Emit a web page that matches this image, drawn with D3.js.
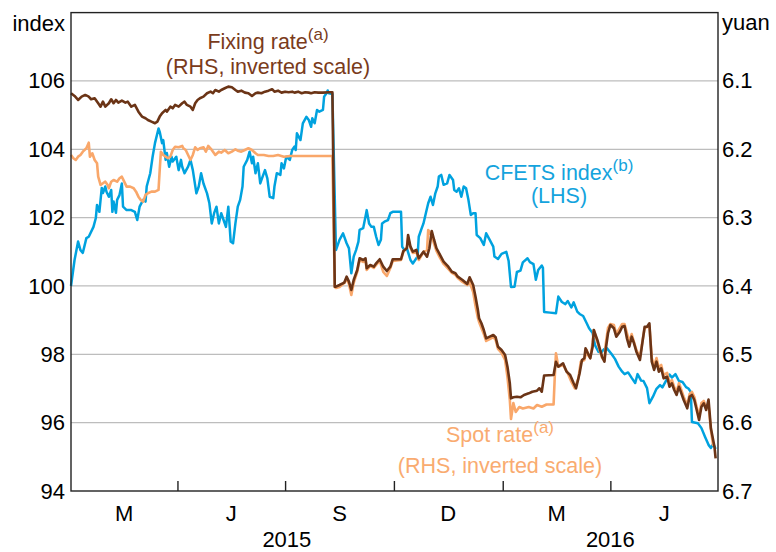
<!DOCTYPE html>
<html><head><meta charset="utf-8">
<script src="https://cdn.jsdelivr.net/npm/d3@7"></script>
<style>
html,body{margin:0;padding:0;background:#fff;}
svg{display:block;font-family:"Liberation Sans",Arial,sans-serif;}
</style></head><body>
<svg id="chart" width="776" height="552"></svg>
<script>
// CFETS RMB index (LHS)
const cfetsIndex = [
["2015-01-01",100.00],["2015-01-04",100.76],["2015-01-07",101.30],["2015-01-09",101.05],["2015-01-11",100.97],
["2015-01-14",101.40],["2015-01-16",101.44],["2015-01-20",101.73],["2015-01-22",101.99],["2015-01-23",102.37],
["2015-01-25",102.17],["2015-01-27",102.87],["2015-01-28",102.72],["2015-01-30",102.91],["2015-01-31",102.76],
["2015-02-02",102.61],["2015-02-04",102.81],["2015-02-05",102.17],["2015-02-06",102.47],["2015-02-08",102.14],
["2015-02-09",102.52],["2015-02-11",102.66],["2015-02-13",103.00],["2015-02-14",102.32],["2015-02-17",102.22],
["2015-02-21",102.22],["2015-02-24",102.17],["2015-02-26",101.93],["2015-02-28",102.32],["2015-03-03",102.52],
["2015-03-05",102.47],["2015-03-06",102.91],["2015-03-09",103.30],["2015-03-11",103.78],["2015-03-13",104.18],
["2015-03-16",104.61],["2015-03-17",104.51],["2015-03-19",104.18],["2015-03-20",104.27],["2015-03-22",103.69],
["2015-03-23",103.89],["2015-03-25",103.49],["2015-03-27",103.78],["2015-03-28",103.64],["2015-03-31",103.78],
["2015-04-02",103.39],["2015-04-04",103.69],["2015-04-05",103.49],["2015-04-07",103.30],["2015-04-10",103.49],
["2015-04-12",103.69],["2015-04-14",103.39],["2015-04-17",102.71],["2015-04-19",102.91],["2015-04-21",103.30],
["2015-04-23",103.00],["2015-04-26",102.71],["2015-04-28",102.42],["2015-04-30",101.83],["2015-05-02",102.13],
["2015-05-04",102.32],["2015-05-06",101.83],["2015-05-08",102.13],["2015-05-10",101.93],["2015-05-12",101.73],
["2015-05-14",102.32],["2015-05-16",101.30],["2015-05-18",101.25],["2015-05-20",101.83],["2015-05-22",102.32],
["2015-05-24",102.52],["2015-05-26",102.91],["2015-05-27",103.49],["2015-05-30",103.69],["2015-06-01",103.93],
["2015-06-03",103.59],["2015-06-04",103.78],["2015-06-06",103.30],["2015-06-08",103.59],["2015-06-10",103.00],
["2015-06-12",103.20],["2015-06-14",103.39],["2015-06-16",103.15],["2015-06-18",102.61],["2015-06-21",102.57],
["2015-06-22",102.91],["2015-06-24",103.30],["2015-06-27",103.25],["2015-06-28",103.59],["2015-06-30",103.44],
["2015-07-02",103.78],["2015-07-05",103.69],["2015-07-07",103.98],["2015-07-09",104.08],["2015-07-10",103.98],
["2015-07-11",104.47],["2015-07-14",104.27],["2015-07-16",104.76],["2015-07-19",104.95],["2015-07-21",104.86],
["2015-07-23",104.66],["2015-07-24",104.91],["2015-07-26",104.76],["2015-07-28",105.15],["2015-07-30",105.10],
["2015-08-02",105.15],["2015-08-03",105.54],["2015-08-05",105.64],["2015-08-06",105.72],["2015-08-07",105.64],
["2015-08-10",105.62],["2015-08-13",101.05],["2015-08-16",101.35],["2015-08-19",101.54],["2015-08-22",101.25],
["2015-08-24",101.10],["2015-08-26",100.37],["2015-08-28",100.86],["2015-08-30",101.05],["2015-09-01",101.30],
["2015-09-02",101.64],["2015-09-05",101.69],["2015-09-07",102.03],["2015-09-08",102.22],["2015-09-10",101.83],
["2015-09-12",101.73],["2015-09-14",101.73],["2015-09-16",101.44],["2015-09-18",101.20],["2015-09-20",101.35],
["2015-09-21",101.83],["2015-09-23",101.88],["2015-09-26",101.93],["2015-09-28",102.13],["2015-09-30",102.17],
["2015-10-07",102.17],["2015-10-08",101.15],["2015-10-10",101.05],["2015-10-12",101.10],["2015-10-15",100.76],
["2015-10-17",100.66],["2015-10-19",100.76],["2015-10-21",100.86],["2015-10-22",101.44],["2015-10-24",101.64],
["2015-10-26",101.83],["2015-10-28",102.13],["2015-10-30",102.42],["2015-11-01",102.61],["2015-11-03",102.37],
["2015-11-05",102.71],["2015-11-07",102.91],["2015-11-08",103.20],["2015-11-10",103.25],["2015-11-12",102.96],
["2015-11-15",103.00],["2015-11-17",103.25],["2015-11-20",103.10],["2015-11-21",102.81],["2015-11-23",102.76],
["2015-11-25",102.86],["2015-11-27",102.61],["2015-11-29",102.91],["2015-12-01",102.86],["2015-12-03",102.52],
["2015-12-05",102.08],["2015-12-07",102.13],["2015-12-09",102.13],["2015-12-10",101.49],["2015-12-13",101.40],
["2015-12-16",101.20],["2015-12-18",101.54],["2015-12-21",101.35],["2015-12-24",101.15],["2015-12-25",100.86],
["2015-12-28",100.79],["2015-12-31",100.94],["2016-01-04",101.00],["2016-01-06",100.73],["2016-01-08",99.97],
["2016-01-11",99.98],["2016-01-13",100.41],["2016-01-16",100.45],["2016-01-18",100.69],["2016-01-22",100.81],
["2016-01-24",100.70],["2016-01-27",100.64],["2016-01-29",100.18],["2016-01-31",100.47],["2016-02-03",100.60],
["2016-02-04",100.53],["2016-02-05",99.24],["2016-02-10",99.22],["2016-02-15",99.20],["2016-02-17",99.69],
["2016-02-20",99.53],["2016-02-23",99.47],["2016-02-25",99.56],["2016-02-28",99.37],["2016-03-01",99.52],
["2016-03-04",99.25],["2016-03-06",99.18],["2016-03-09",99.12],["2016-03-12",98.91],["2016-03-14",98.76],
["2016-03-17",98.62],["2016-03-19",98.27],["2016-03-22",98.07],["2016-03-24",98.05],["2016-03-27",98.16],
["2016-03-29",98.18],["2016-04-02",98.01],["2016-04-05",97.86],["2016-04-08",97.64],["2016-04-11",97.49],
["2016-04-13",97.42],["2016-04-16",97.47],["2016-04-19",97.31],["2016-04-22",97.16],["2016-04-24",97.42],
["2016-04-27",97.23],["2016-04-29",97.22],["2016-05-02",97.01],["2016-05-04",96.57],["2016-05-07",96.76],
["2016-05-10",96.99],["2016-05-13",97.10],["2016-05-15",97.03],["2016-05-18",97.22],["2016-05-21",97.41],
["2016-05-23",97.32],["2016-05-26",97.42],["2016-05-29",97.22],["2016-06-01",97.19],["2016-06-04",97.04],
["2016-06-06",97.00],["2016-06-08",96.90],["2016-06-09",96.02],["2016-06-14",95.98],["2016-06-17",95.84],
["2016-06-20",95.59],["2016-06-23",95.35],["2016-06-25",95.26],["2016-06-27",95.38],["2016-06-29",95.23]
];

// Fixing rate, yuan per US$ (RHS, inverted)
const fixingRate = [
["2015-01-01",6.1180],["2015-01-04",6.1220],["2015-01-07",6.1278],["2015-01-10",6.1230],["2015-01-13",6.1205],
["2015-01-16",6.1230],["2015-01-18",6.1268],["2015-01-21",6.1253],["2015-01-24",6.1326],["2015-01-26",6.1376],
["2015-01-28",6.1303],["2015-01-30",6.1376],["2015-02-02",6.1326],["2015-02-04",6.1268],["2015-02-06",6.1326],
["2015-02-08",6.1278],["2015-02-10",6.1318],["2015-02-13",6.1288],["2015-02-16",6.1318],["2015-02-18",6.1303],
["2015-02-21",6.1376],["2015-02-24",6.1351],["2015-02-27",6.1449],["2015-03-02",6.1522],["2015-03-05",6.1546],
["2015-03-07",6.1571],["2015-03-10",6.1596],["2015-03-13",6.1619],["2015-03-15",6.1596],["2015-03-17",6.1522],
["2015-03-19",6.1473],["2015-03-22",6.1424],["2015-03-23",6.1449],["2015-03-26",6.1376],["2015-03-28",6.1400],
["2015-03-30",6.1351],["2015-04-02",6.1376],["2015-04-05",6.1326],["2015-04-07",6.1303],["2015-04-09",6.1351],
["2015-04-12",6.1376],["2015-04-14",6.1424],["2015-04-16",6.1326],["2015-04-18",6.1278],["2015-04-20",6.1253],
["2015-04-23",6.1230],["2015-04-26",6.1180],["2015-04-29",6.1157],["2015-05-01",6.1180],["2015-05-03",6.1132],
["2015-05-06",6.1157],["2015-05-08",6.1132],["2015-05-11",6.1107],["2015-05-14",6.1083],["2015-05-17",6.1092],
["2015-05-20",6.1132],["2015-05-22",6.1157],["2015-05-25",6.1142],["2015-05-28",6.1171],["2015-05-31",6.1180],
["2015-06-03",6.1220],["2015-06-06",6.1180],["2015-06-08",6.1171],["2015-06-11",6.1180],["2015-06-14",6.1157],
["2015-06-17",6.1142],["2015-06-20",6.1121],["2015-06-22",6.1157],["2015-06-25",6.1142],["2015-06-28",6.1171],
["2015-07-01",6.1157],["2015-07-04",6.1165],["2015-07-07",6.1157],["2015-07-09",6.1171],["2015-07-12",6.1157],
["2015-07-15",6.1180],["2015-07-18",6.1165],["2015-07-21",6.1171],["2015-07-23",6.1180],["2015-07-26",6.1165],
["2015-07-29",6.1171],["2015-08-02",6.1171],["2015-08-07",6.1165],["2015-08-10",6.1165],["2015-08-12",6.4010],
["2015-08-13",6.4010],["2015-08-16",6.3986],["2015-08-20",6.3952],["2015-08-22",6.3864],["2015-08-24",6.3937],
["2015-08-26",6.4059],["2015-08-28",6.3912],["2015-08-31",6.3766],["2015-09-02",6.3595],["2015-09-05",6.3620],
["2015-09-07",6.3595],["2015-09-08",6.3741],["2015-09-11",6.3693],["2015-09-14",6.3718],["2015-09-16",6.3668],
["2015-09-19",6.3609],["2015-09-22",6.3718],["2015-09-25",6.3781],["2015-09-28",6.3718],["2015-09-30",6.3609],
["2015-10-07",6.3609],["2015-10-09",6.3488],["2015-10-12",6.3448],["2015-10-13",6.3254],["2015-10-15",6.3425],
["2015-10-17",6.3498],["2015-10-20",6.3473],["2015-10-22",6.3595],["2015-10-24",6.3546],["2015-10-26",6.3498],
["2015-10-29",6.3571],["2015-10-31",6.3448],["2015-11-02",6.3195],["2015-11-04",6.3327],["2015-11-06",6.3448],
["2015-11-09",6.3546],["2015-11-12",6.3645],["2015-11-16",6.3718],["2015-11-19",6.3791],["2015-11-22",6.3814],
["2015-11-24",6.3864],["2015-11-28",6.3912],["2015-12-02",6.3971],["2015-12-04",6.3873],["2015-12-07",6.3986],
["2015-12-09",6.4157],["2015-12-11",6.4351],["2015-12-12",6.4473],["2015-12-14",6.4546],["2015-12-16",6.4644],
["2015-12-18",6.4766],["2015-12-21",6.4742],["2015-12-24",6.4717],["2015-12-26",6.4751],["2015-12-28",6.4889],
["2015-12-31",6.4937],["2016-01-03",6.5010],["2016-01-05",6.5181],["2016-01-07",6.5424],["2016-01-08",6.5644],
["2016-01-10",6.5629],["2016-01-13",6.5620],["2016-01-16",6.5629],["2016-01-19",6.5595],["2016-01-23",6.5571],
["2016-01-26",6.5547],["2016-01-30",6.5532],["2016-02-01",6.5497],["2016-02-03",6.5547],["2016-02-05",6.5310],
["2016-02-13",6.5303],["2016-02-15",6.5108],["2016-02-17",6.5181],["2016-02-21",6.5131],["2016-02-24",6.5254],
["2016-02-27",6.5303],["2016-03-01",6.5424],["2016-03-03",6.5497],["2016-03-06",6.5278],["2016-03-08",6.5083],
["2016-03-10",6.5058],["2016-03-11",6.4912],["2016-03-13",6.4985],["2016-03-15",6.5058],["2016-03-17",6.4889],
["2016-03-18",6.4644],["2016-03-21",6.4790],["2016-03-23",6.4912],["2016-03-25",6.5035],["2016-03-27",6.5108],
["2016-03-28",6.4937],["2016-03-30",6.4692],["2016-04-01",6.4571],["2016-04-04",6.4619],["2016-04-06",6.4742],
["2016-04-09",6.4669],["2016-04-11",6.4596],["2016-04-13",6.4586],["2016-04-15",6.4766],["2016-04-17",6.4889],
["2016-04-19",6.4742],["2016-04-21",6.4839],["2016-04-23",6.4962],["2016-04-26",6.5083],["2016-04-28",6.4839],
["2016-04-30",6.4596],["2016-05-02",6.4596],["2016-05-04",6.4546],["2016-05-06",6.5108],["2016-05-08",6.5229],
["2016-05-10",6.5108],["2016-05-12",6.5254],["2016-05-14",6.5205],["2016-05-16",6.5351],["2016-05-19",6.5328],
["2016-05-21",6.5474],["2016-05-23",6.5424],["2016-05-25",6.5522],["2016-05-27",6.5595],["2016-05-29",6.5474],
["2016-05-31",6.5571],["2016-06-02",6.5669],["2016-06-05",6.5790],["2016-06-07",6.5620],["2016-06-09",6.5595],
["2016-06-11",6.5669],["2016-06-13",6.5815],["2016-06-15",6.5961],["2016-06-17",6.5767],["2016-06-19",6.5717],
["2016-06-21",6.5815],["2016-06-23",6.5661],["2016-06-25",6.6083],["2016-06-28",6.6352],["2016-06-29",6.6522]
];

// Spot rate, yuan per US$ (RHS, inverted)
const spotRate = [
["2015-01-01",6.2083],["2015-01-03",6.2131],["2015-01-05",6.2156],["2015-01-07",6.2108],["2015-01-09",6.2083],
["2015-01-11",6.2035],["2015-01-14",6.1985],["2015-01-16",6.1903],["2015-01-17",6.2108],["2015-01-19",6.2058],
["2015-01-21",6.2156],["2015-01-23",6.2204],["2015-01-24",6.2401],["2015-01-26",6.2522],["2015-01-28",6.2497],
["2015-01-30",6.2474],["2015-02-01",6.2522],["2015-02-02",6.2570],["2015-02-04",6.2474],["2015-02-06",6.2449],
["2015-02-09",6.2474],["2015-02-11",6.2424],["2015-02-13",6.2401],["2015-02-15",6.2474],["2015-02-17",6.2547],
["2015-02-20",6.2547],["2015-02-23",6.2570],["2015-02-25",6.2620],["2015-02-27",6.2693],["2015-03-01",6.2742],
["2015-03-03",6.2766],["2015-03-05",6.2668],["2015-03-07",6.2644],["2015-03-10",6.2620],["2015-03-13",6.2620],
["2015-03-16",6.2595],["2015-03-17",6.2303],["2015-03-18",6.2035],["2015-03-20",6.2083],["2015-03-22",6.2108],
["2015-03-24",6.2131],["2015-03-26",6.2108],["2015-03-28",6.2010],["2015-03-30",6.1962],["2015-04-02",6.1970],
["2015-04-05",6.1951],["2015-04-06",6.1985],["2015-04-08",6.2010],["2015-04-10",6.2083],["2015-04-12",6.2156],
["2015-04-14",6.2083],["2015-04-16",6.1970],["2015-04-18",6.2010],["2015-04-20",6.1985],["2015-04-23",6.1970],
["2015-04-25",6.2035],["2015-04-27",6.1951],["2015-04-30",6.2010],["2015-05-03",6.2083],["2015-05-06",6.2035],
["2015-05-08",6.2049],["2015-05-11",6.2010],["2015-05-14",6.2058],["2015-05-17",6.2035],["2015-05-20",6.2000],
["2015-05-22",6.2020],["2015-05-25",6.2035],["2015-05-28",6.2010],["2015-05-31",6.1985],["2015-06-03",6.2010],
["2015-06-06",6.2058],["2015-06-08",6.2083],["2015-06-13",6.2083],["2015-06-17",6.2098],["2015-06-21",6.2098],
["2015-06-25",6.2083],["2015-06-30",6.2108],["2015-07-05",6.2098],["2015-07-22",6.2098],["2015-08-10",6.2098],
["2015-08-12",6.4015],["2015-08-13",6.4029],["2015-08-16",6.4015],["2015-08-20",6.3956],["2015-08-22",6.3898],
["2015-08-24",6.3971],["2015-08-26",6.4132],["2015-08-28",6.3956],["2015-08-31",6.3795],["2015-09-02",6.3620],
["2015-09-05",6.3649],["2015-09-07",6.3620],["2015-09-08",6.3766],["2015-09-11",6.3707],["2015-09-14",6.3737],
["2015-09-16",6.3693],["2015-09-19",6.3634],["2015-09-22",6.3795],["2015-09-25",6.3854],["2015-09-28",6.3737],
["2015-09-30",6.3634],["2015-10-07",6.3620],["2015-10-09",6.3503],["2015-10-12",6.3429],["2015-10-13",6.3298],
["2015-10-15",6.3444],["2015-10-17",6.3517],["2015-10-20",6.3503],["2015-10-22",6.3620],["2015-10-24",6.3561],
["2015-10-26",6.3503],["2015-10-29",6.3473],["2015-10-30",6.3181],["2015-11-02",6.3268],["2015-11-04",6.3385],
["2015-11-06",6.3488],["2015-11-09",6.3590],["2015-11-12",6.3678],["2015-11-16",6.3751],["2015-11-19",6.3810],
["2015-11-22",6.3839],["2015-11-24",6.3883],["2015-11-28",6.3942],["2015-12-02",6.3986],["2015-12-04",6.3942],
["2015-12-07",6.4088],["2015-12-09",6.4293],["2015-12-11",6.4468],["2015-12-12",6.4527],["2015-12-14",6.4615],
["2015-12-16",6.4703],["2015-12-18",6.4805],["2015-12-21",6.4776],["2015-12-24",6.4747],["2015-12-26",6.4790],
["2015-12-28",6.4922],["2015-12-31",6.4981],["2016-01-03",6.5083],["2016-01-05",6.5332],["2016-01-07",6.5669],
["2016-01-08",6.5947],["2016-01-10",6.5712],["2016-01-12",6.5844],["2016-01-15",6.5771],["2016-01-18",6.5793],
["2016-01-23",6.5771],["2016-01-27",6.5793],["2016-01-30",6.5742],["2016-02-03",6.5767],["2016-02-07",6.5734],
["2016-02-13",6.5734],["2016-02-14",6.5328],["2016-02-15",6.4985],["2016-02-17",6.5181],["2016-02-21",6.5156],
["2016-02-25",6.5278],["2016-02-28",6.5401],["2016-03-02",6.5497],["2016-03-05",6.5351],["2016-03-07",6.5108],
["2016-03-10",6.5083],["2016-03-12",6.4937],["2016-03-13",6.5010],["2016-03-15",6.5054],["2016-03-17",6.4834],
["2016-03-18",6.4644],["2016-03-21",6.4820],["2016-03-23",6.4937],["2016-03-25",6.5054],["2016-03-27",6.5083],
["2016-03-28",6.4864],["2016-03-30",6.4615],["2016-04-01",6.4556],["2016-04-04",6.4571],["2016-04-06",6.4703],
["2016-04-09",6.4615],["2016-04-11",6.4556],["2016-04-13",6.4556],["2016-04-15",6.4688],["2016-04-17",6.4820],
["2016-04-19",6.4703],["2016-04-21",6.4820],["2016-04-23",6.4937],["2016-04-26",6.5039],["2016-04-28",6.4820],
["2016-04-30",6.4615],["2016-05-02",6.4600],["2016-05-04",6.4586],["2016-05-06",6.5054],["2016-05-08",6.5171],
["2016-05-10",6.5054],["2016-05-12",6.5200],["2016-05-14",6.5156],["2016-05-16",6.5303],["2016-05-19",6.5273],
["2016-05-21",6.5420],["2016-05-23",6.5376],["2016-05-25",6.5478],["2016-05-27",6.5551],["2016-05-29",6.5420],
["2016-05-31",6.5522],["2016-06-02",6.5625],["2016-06-05",6.5742],["2016-06-07",6.5581],["2016-06-09",6.5551],
["2016-06-11",6.5625],["2016-06-13",6.5771],["2016-06-15",6.5903],["2016-06-17",6.5712],["2016-06-19",6.5683],
["2016-06-21",6.5786],["2016-06-23",6.5742],["2016-06-25",6.6108],["2016-06-27",6.6342]
];

const indexTicks = [94, 96, 98, 100, 102, 104, 106];
const yuanTicks = [6.1, 6.2, 6.3, 6.4, 6.5, 6.6, 6.7];
const quarterStarts = ["2015-01-01","2015-04-01","2015-07-01","2015-10-01","2016-01-01","2016-04-01","2016-07-01"];
const quarterLabels = ["M", "J", "S", "D", "M", "J"];
const yearLabels = [["2015","2015-01-01","2016-01-01"],["2016","2016-01-01","2016-07-01"]];

const parse = d3.timeParse("%Y-%m-%d");
const L = 71, R = 718, T = 12.6, B = 491;
const svg = d3.select("#chart");
const FS = 22;

const x = d3.scaleTime().domain([parse("2015-01-01"), parse("2016-07-01")]).range([L, R]);
const yL = d3.scaleLinear().domain([94, 108]).range([B, T]);
const yR = d3.scaleLinear().domain([6.7, 6.0]).range([B, T]);

// gridlines
svg.append("g").selectAll("line").data(indexTicks.filter(d => d > 94)).join("line")
  .attr("x1", L).attr("x2", R).attr("y1", d => yL(d)).attr("y2", d => yL(d))
  .attr("stroke", "#bdbdbd").attr("stroke-width", 1.3);

// lines
const line = (ys) => d3.line().x(d => x(parse(d[0]))).y(d => ys(d[1]));
svg.append("path").datum(cfetsIndex).attr("d", line(yL))
  .attr("fill", "none").attr("stroke", "#00a2df").attr("stroke-width", 2.5).attr("stroke-linejoin", "round");
svg.append("path").datum(spotRate).attr("d", line(yR))
  .attr("fill", "none").attr("stroke", "#f9a76a").attr("stroke-width", 2.6).attr("stroke-linejoin", "round");
svg.append("path").datum(fixingRate).attr("d", line(yR))
  .attr("fill", "none").attr("stroke", "#6b3416").attr("stroke-width", 2.6).attr("stroke-linejoin", "round");

// frame
svg.append("rect").attr("x", L).attr("y", T).attr("width", R - L).attr("height", B - T)
  .attr("fill", "none").attr("stroke", "#222").attr("stroke-width", 1.4);

// left axis
const gl = svg.append("g").attr("transform", `translate(${L},0)`)
  .call(d3.axisLeft(yL).tickValues(indexTicks).tickSize(0).tickPadding(6));
gl.select(".domain").remove();
gl.selectAll("text").attr("font-size", FS).attr("fill", "#000").attr("font-family", "Liberation Sans, Arial, sans-serif");

// right axis
const gr = svg.append("g").attr("transform", `translate(${R},0)`)
  .call(d3.axisRight(yR).tickValues(yuanTicks).tickFormat(d3.format(".1f")).tickSize(0).tickPadding(4));
gr.select(".domain").remove();
gr.selectAll("text").attr("font-size", FS).attr("fill", "#000").attr("font-family", "Liberation Sans, Arial, sans-serif");

// bottom axis: quarter ticks pointing inward
const gb = svg.append("g").attr("transform", `translate(0,${B})`)
  .call(d3.axisBottom(x).tickValues(quarterStarts.slice(1, -1).map(parse)).tickSizeInner(-10).tickSizeOuter(0).tickFormat(""));
gb.select(".domain").remove();
gb.selectAll(".tick line").attr("stroke", "#222").attr("stroke-width", 1.4);

// quarter labels
svg.append("g").selectAll("text").data(quarterLabels).join("text")
  .attr("x", (d, i) => (x(parse(quarterStarts[i])) + x(parse(quarterStarts[i + 1]))) / 2)
  .attr("y", 521).attr("text-anchor", "middle").attr("font-size", FS).text(d => d);

// year labels
svg.append("g").selectAll("text").data(yearLabels).join("text")
  .attr("x", d => (x(parse(d[1])) + x(parse(d[2]))) / 2)
  .attr("y", 547).attr("text-anchor", "middle").attr("font-size", FS).text(d => d[0]);

// unit labels
svg.append("text").attr("x", 65).attr("y", 31).attr("text-anchor", "end").attr("font-size", FS).text("index");
svg.append("text").attr("x", 722).attr("y", 30).attr("text-anchor", "start").attr("font-size", FS).text("yuan");

// annotations
function label(cx, y1, y2, main, sup, sub, color) {
  const t = svg.append("text").attr("x", cx).attr("y", y1).attr("text-anchor", "middle")
    .attr("font-size", 21.5).attr("fill", color);
  t.append("tspan").text(main);
  t.append("tspan").attr("font-size", 17).attr("dy", -9).text(sup);
  svg.append("text").attr("x", cx).attr("y", y2).attr("text-anchor", "middle")
    .attr("font-size", 21.5).attr("fill", color).text(sub);
}
label(268, 49, 74, "Fixing rate", "(a)", "(RHS, inverted scale)", "#7a3b1b");
label(559, 180, 203, "CFETS index", "(b)", "(LHS)", "#14a3dd");
label(500, 442, 473, "Spot rate", "(a)", "(RHS, inverted scale)", "#f9ab70");
</script>
</body></html>
